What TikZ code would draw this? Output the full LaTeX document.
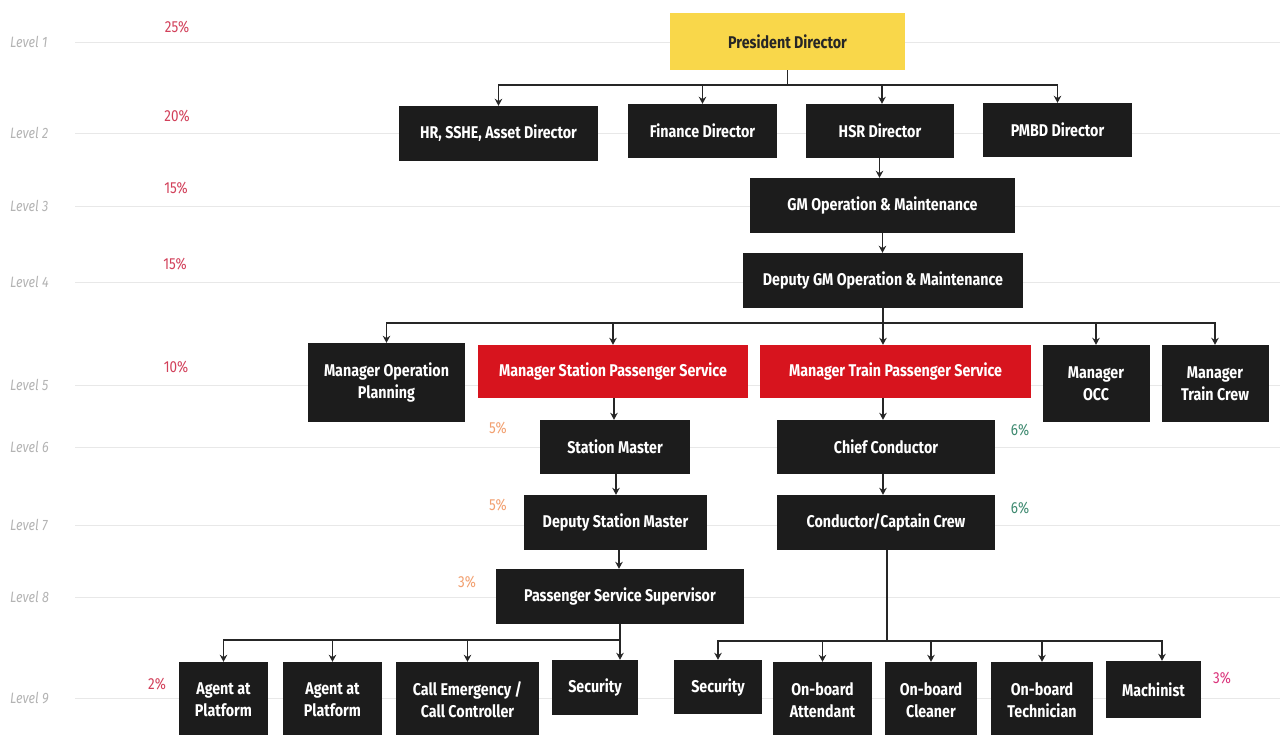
\documentclass[tikz,border=0pt]{standalone}
\usepackage{fontspec}
\setmainfont{Fira Sans}[FakeStretch=0.84]
\usetikzlibrary{arrows.meta}
\definecolor{boxblack}{HTML}{1C1C1C}
\definecolor{boxred}{HTML}{D7141E}
\definecolor{boxyellow}{HTML}{F9D74A}
\definecolor{gridgray}{HTML}{E8E8E8}
\definecolor{lvlgray}{HTML}{B4B4B4}
\definecolor{pctred}{HTML}{D2405A}
\definecolor{pctorange}{HTML}{F2A070}
\definecolor{pctgreen}{HTML}{3E8A70}
\tikzset{
  post/.style={fill=boxblack, text=white, font=\bfseries\fontsize{17}{22}\selectfont, align=center, inner sep=0pt},
  redpost/.style={post, fill=boxred},
  link/.style={line width=1.7pt, black!85},
  arrowlink/.style={link, -{Stealth[length=7pt,width=7.5pt]}},
  lvl/.style={anchor=west, inner sep=0pt, text=lvlgray, font=\itshape\fontsize{15}{18}\selectfont},
  pct/.style={font=\fontsize{16}{19}\selectfont},
}
\begin{document}
\begin{tikzpicture}[x=1pt, y=-1pt]
  \useasboundingbox[fill=white] (0,0) rectangle (1280,735);
  % 1. level lines and labels
  \foreach \y/\l in {42/1, 133/2, 206/3, 282/4, 385/5, 447/6, 525/7, 597/8, 698/9} {
    \draw[gridgray, line width=0.8pt] (75,\y) -- (1280,\y);
    \node[lvl] (lvl\l) at (10,\y) {Level \l};
  }
  % 2. percentages
  \node[pct, text=pctred] (p1) at (177,27) {25\%};
  \node[pct, text=pctred] (p2) at (177,116) {20\%};
  \node[pct, text=pctred] (p3) at (176,188) {15\%};
  \node[pct, text=pctred] (p4) at (175,264) {15\%};
  \node[pct, text=pctred] (p5) at (176,367) {10\%};
  \node[pct, text=pctred] (p9a) at (157,684) {2\%};
  \node[pct, text=pctorange] (p6a) at (498,428) {5\%};
  \node[pct, text=pctorange] (p7a) at (498,505) {5\%};
  \node[pct, text=pctorange] (p8a) at (467,582) {3\%};
  \node[pct, text=pctgreen] (p6b) at (1020,430) {6\%};
  \node[pct, text=pctgreen] (p7b) at (1020,508) {6\%};
  \node[pct, text=pctred!80!magenta] (p9b) at (1222,678) {3\%};
  % 3. level 1 to 4
  \node[post, fill=boxyellow, text=black!85, minimum width=235, minimum height=57] (pres) at (787.5,41.5) {President Director};
  \node[post, minimum width=199, minimum height=55] (hr) at (498.5,133.5) {HR, SSHE, Asset Director};
  \node[post, minimum width=149, minimum height=54] (fin) at (702.5,131) {Finance Director};
  \node[post, minimum width=148, minimum height=54] (hsr) at (880,131) {HSR Director};
  \node[post, minimum width=149, minimum height=54] (pmbd) at (1057.5,130) {PMBD Director};
  \node[post, minimum width=265, minimum height=55] (gm) at (882.5,205.5) {GM Operation \& Maintenance};
  \node[post, minimum width=280, minimum height=55] (dgm) at (883,280.5) {Deputy GM Operation \& Maintenance};
  % 4. level 5 to 8
  \node[post, minimum width=157, minimum height=79] (mop) at (386.5,382.5) {Manager Operation\\Planning};
  \node[redpost, minimum width=270, minimum height=53] (msps) at (613,371.5) {Manager Station Passenger Service};
  \node[redpost, minimum width=271, minimum height=53] (mtps) at (895.5,371.5) {Manager Train Passenger Service};
  \node[post, minimum width=107, minimum height=77] (occ) at (1096,383.5) {Manager\\OCC};
  \node[post, minimum width=107, minimum height=77] (crew) at (1215,383.5) {Manager\\Train Crew};
  \node[post, minimum width=150, minimum height=54] (sm) at (615,447) {Station Master};
  \node[post, minimum width=218, minimum height=54] (cc) at (886,447) {Chief Conductor};
  \node[post, minimum width=183, minimum height=55] (dsm) at (615.5,522.5) {Deputy Station Master};
  \node[post, minimum width=218, minimum height=55] (ccc) at (886,522.5) {Conductor/Captain Crew};
  \node[post, minimum width=248, minimum height=55] (pss) at (620,596.5) {Passenger Service Supervisor};
  % 5. level 9
  \node[post, minimum width=89, minimum height=76] (ag1) at (223.5,700) {Agent at\\Platform};
  \node[post, minimum width=99, minimum height=76] (ag2) at (332.5,700) {Agent at\\Platform};
  \node[post, minimum width=143, minimum height=76] (call) at (467.5,700) {Call Emergency /\\Call Controller};
  \node[post, minimum width=86, minimum height=55] (secl) at (595,687.5) {Security};
  \node[post, minimum width=88, minimum height=54] (secr) at (718,687) {Security};
  \node[post, minimum width=99, minimum height=76] (att) at (822.5,700) {On-board\\Attendant};
  \node[post, minimum width=92, minimum height=76] (cln) at (931,700) {On-board\\Cleaner};
  \node[post, minimum width=102, minimum height=76] (tec) at (1042,700) {On-board\\Technician};
  \node[post, minimum width=95, minimum height=57] (mach) at (1153.5,689.5) {Machinist};
  % 6. connectors
  \draw[link] (pres.south) -- ++(0,14.5) coordinate (bus1);
  \foreach \n in {hr,fin,pmbd} \draw[arrowlink] (bus1) -| (\n.north);
  \draw[arrowlink] (bus1) -| ([xshift=2pt]hsr.north);
  \draw[arrowlink] ([xshift=-0.5pt]hsr.south) -- ([xshift=-0.5pt]hsr.south |- gm.north);
  \draw[arrowlink] (gm.south) -- (gm.south |- dgm.north);
  \draw[link] (dgm.south) -- ++(0,14.5) coordinate (bus4);
  \foreach \n in {mop,msps,occ,crew} \draw[arrowlink] (bus4) -| (\n.north);
  \draw[arrowlink] (dgm.south) -- (dgm.south |- mtps.north);
  \draw[arrowlink] ([xshift=1pt]msps.south) -- ([xshift=1pt]msps.south |- sm.north);
  \draw[arrowlink] ([xshift=-3pt]cc.north |- mtps.south) -- ([xshift=-3pt]cc.north);
  \draw[arrowlink] ([xshift=1pt]sm.south) -- ([xshift=1pt]sm.south |- dsm.north);
  \draw[arrowlink] ([xshift=-3pt]cc.south) -- ([xshift=-3pt]ccc.north);
  \draw[arrowlink] ([xshift=3.5pt]dsm.south) -- ([xshift=3.5pt]dsm.south |- pss.north);
  \draw[link] (pss.south) -- ++(0,15.5) coordinate (bus8a);
  \foreach \n in {ag1,ag2,call} \draw[arrowlink] (bus8a) -| (\n.north);
  \draw[arrowlink] (pss.south) -- (pss.south |- secl.north);
  \draw[link] ([xshift=1pt]ccc.south) -- ++(0,90.5) coordinate (bus8b);
  \foreach \n in {secr,att,cln,tec} \draw[arrowlink] (bus8b) -| (\n.north);
  \draw[arrowlink] (bus8b) -| ([xshift=8.5pt]mach.north);
\end{tikzpicture}
\end{document}
